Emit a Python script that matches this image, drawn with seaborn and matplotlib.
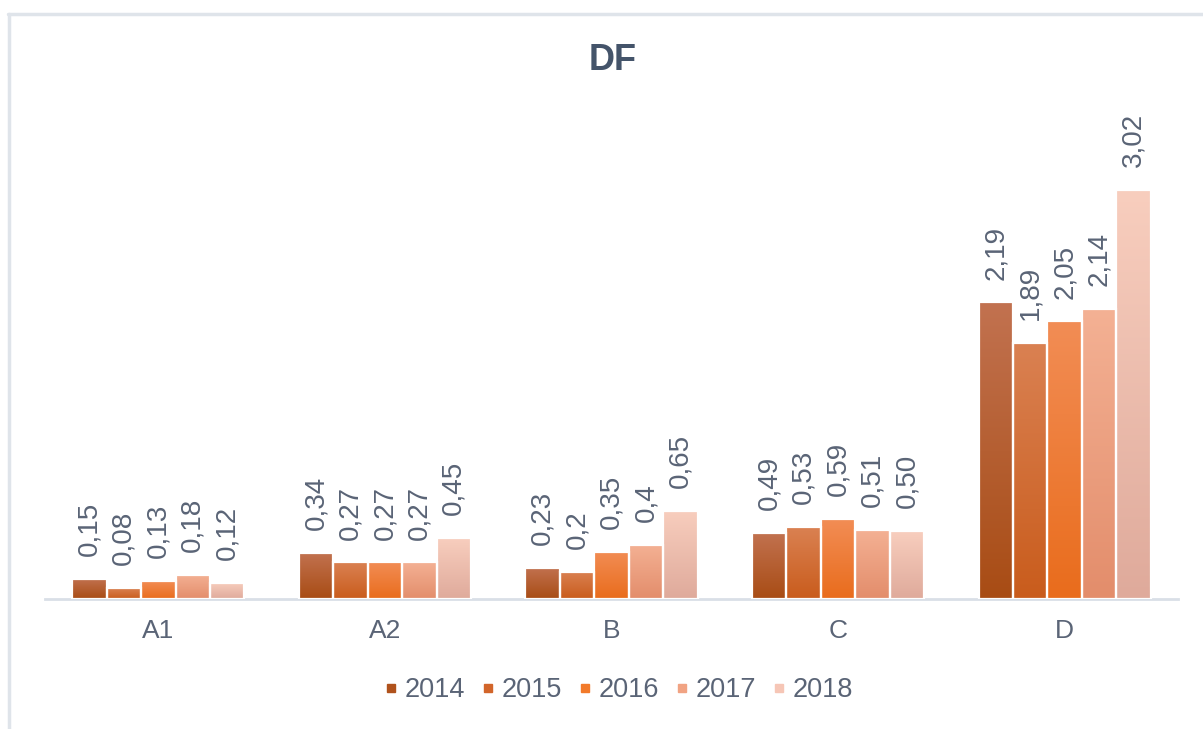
import numpy as np
import pandas as pd
import matplotlib
matplotlib.use("Agg")
import matplotlib.pyplot as plt
import seaborn as sns
from matplotlib.colors import LinearSegmentedColormap
from matplotlib.lines import Line2D

categories = ["A1", "A2", "B", "C", "D"]
years = ["2014", "2015", "2016", "2017", "2018"]
v2014 = [0.15, 0.34, 0.23, 0.49, 2.19]
v2015 = [0.08, 0.27, 0.20, 0.53, 1.89]
v2016 = [0.13, 0.27, 0.35, 0.59, 2.05]
v2017 = [0.18, 0.27, 0.40, 0.51, 2.14]
v2018 = [0.12, 0.45, 0.65, 0.50, 3.02]
labels2014 = ["0,15", "0,34", "0,23", "0,49", "2,19"]
labels2015 = ["0,08", "0,27", "0,2", "0,53", "1,89"]
labels2016 = ["0,13", "0,27", "0,35", "0,59", "2,05"]
labels2017 = ["0,18", "0,27", "0,4", "0,51", "2,14"]
labels2018 = ["0,12", "0,45", "0,65", "0,50", "3,02"]

values = [v2014, v2015, v2016, v2017, v2018]
labels = [labels2014, labels2015, labels2016, labels2017, labels2018]

top_colors = ["#c27250", "#da8152", "#f28d55", "#f4b194", "#f8cebe"]
bottom_colors = ["#a84c14", "#c95c1c", "#e96c1c", "#e38d6b", "#dfaa9b"]
legend_colors = ["#b0521c", "#d2652a", "#f27a2a", "#f1a383", "#f6c6b6"]

text_color = "#5a6476"
title_color = "#44546a"

rows = []
for y, vals in zip(years, values):
    for c, v in zip(categories, vals):
        rows.append({"cat": c, "year": y, "val": v})
df = pd.DataFrame(rows)

sns.set_theme(style="white")
plt.rcParams["font.family"] = ["Liberation Sans", "DejaVu Sans"]

fig = plt.figure(figsize=(12.03, 7.29), dpi=100)
ax = fig.add_axes([45 / 1203, 1 - 599 / 729, (1178 - 45) / 1203, (599 - 100) / 729])

sns.barplot(data=df, x="cat", y="val", hue="year", order=categories,
            hue_order=years, palette=legend_colors, width=0.76,
            linewidth=0, ax=ax, legend=False)

ax.set_xlim(-0.5, 4.5)
ax.set_ylim(0, (599 - 100) / 135.4)

for i, cont in enumerate(ax.containers):
    cmap = LinearSegmentedColormap.from_list(f"g{i}", [bottom_colors[i], top_colors[i]])
    grad = np.linspace(0, 1, 256).reshape(-1, 1)
    for j, patch in enumerate(cont.patches):
        x0 = patch.get_x()
        w = patch.get_width()
        h = patch.get_height()
        im = ax.imshow(grad, cmap=cmap, origin="lower", aspect="auto",
                       extent=[x0, x0 + w, 0, h], zorder=2, interpolation="bilinear")
        im.set_clip_path(patch)
        patch.set_facecolor("none")
        patch.set_edgecolor("white")
        patch.set_linewidth(1.6)
        patch.set_zorder(3)
        ax.annotate(labels[i][j], (x0 + w / 2, h), xytext=(0, 16.5),
                    textcoords="offset points", rotation=90, ha="center",
                    va="bottom", fontsize=20, color=text_color)

ax.set_xlim(-0.5, 4.5)
ax.set_ylim(0, (599 - 100) / 135.4)

for s in ["top", "right", "left"]:
    ax.spines[s].set_visible(False)
ax.spines["bottom"].set_color("#d9dfe7")
ax.spines["bottom"].set_linewidth(2)
ax.spines["bottom"].set_zorder(1)
ax.set_yticks([])
ax.set_xlabel("")
ax.set_ylabel("")
ax.tick_params(axis="x", length=0, pad=14.5, labelsize=19, labelcolor=text_color)

fig.text(0.5 + 11 / 1203, 1 - 61 / 729, "DF", ha="center", va="center",
         fontsize=26, fontweight="bold", color=title_color)

handles = [Line2D([], [], marker="s", linestyle="none", markersize=6,
                  markerfacecolor=c, markeredgecolor=c) for c in legend_colors]
fig.legend(handles, years, loc="center", bbox_to_anchor=(619.5 / 1203, 1 - 690 / 729),
           ncol=5, frameon=False, fontsize=19.5, labelcolor=text_color,
           handlelength=0.4, handletextpad=0.3, columnspacing=0.65)

# outer frame
fig.add_artist(Line2D([8 / 1203, 1.0], [1 - 14 / 729, 1 - 14 / 729],
                      transform=fig.transFigure, color="#dfe4ea", linewidth=2.5))
fig.add_artist(Line2D([9 / 1203, 9 / 1203], [0, 1 - 14 / 729],
                      transform=fig.transFigure, color="#dfe4ea", linewidth=2.5))

fig.savefig("out.png", dpi=100, facecolor="white")
